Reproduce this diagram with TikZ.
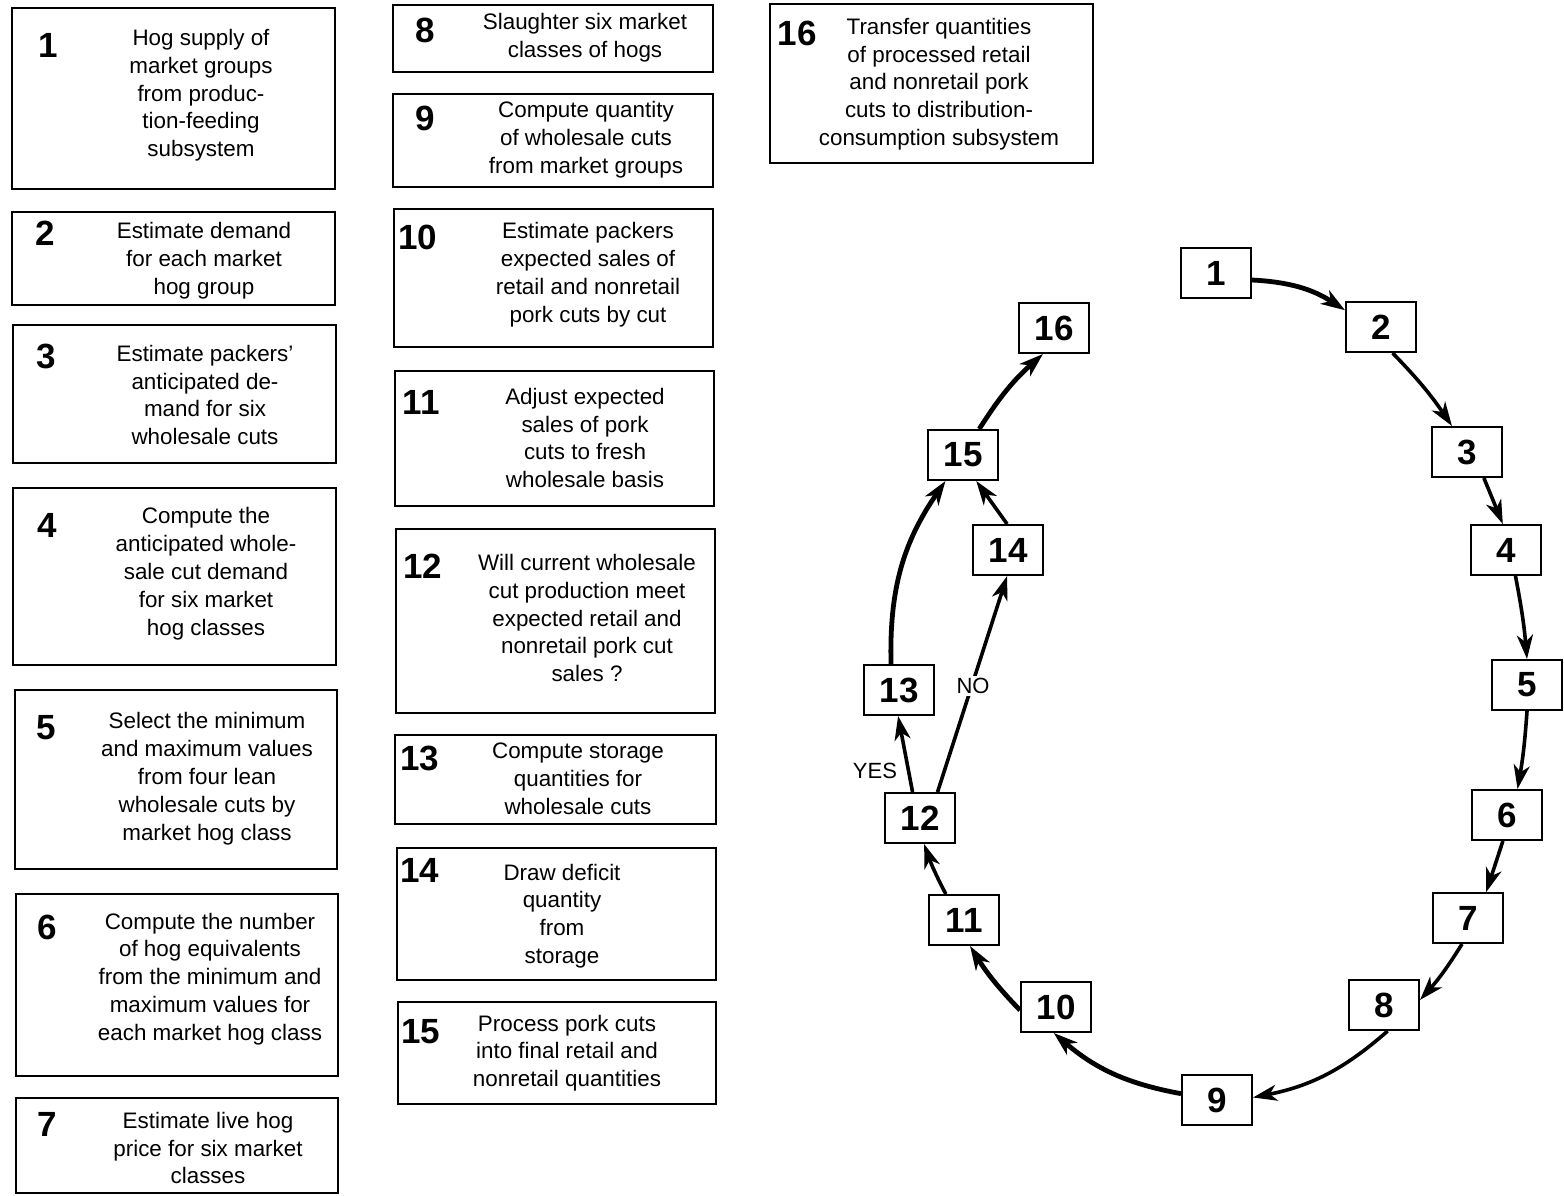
\documentclass[tikz,border=0pt]{standalone}
\usepackage{fontspec}
\setmainfont{Liberation Sans}
\usetikzlibrary{arrows.meta}
\newcommand{\pbox}[5]{\node[box,minimum width={(#4-#2)*0.5pt},minimum height={(#5-#3)*0.5pt}] (#1) at ({(#2+#4)/2},{(#3+#5)/2}) {};}
\begin{document}
\begin{tikzpicture}[x=0.5pt,y=-0.5pt,
  box/.style={draw,line width=1pt,inner sep=0pt,outer sep=0pt},
  num/.style={inner sep=0pt,font=\fontsize{17.5}{20}\selectfont\bfseries},
  txt/.style={inner sep=0pt,align=center,yshift=-1pt,font=\fontsize{11.2}{13.9}\selectfont},
  lbl/.style={inner sep=1pt,font=\fontsize{11}{13}\selectfont},
  sbox/.style={draw,line width=1pt,minimum width=35pt,minimum height=25pt,inner sep=0pt,fill=white,font=\fontsize{17.5}{20}\selectfont\bfseries},
  flow/.style={line width=1.8pt,-{Stealth[length=12pt,width=8pt,inset=3.5pt]}},
  bold flow/.style={line width=2.4pt,-{Stealth[length=12pt,width=8pt,inset=3.5pt]}}]
\path[use as bounding box,fill=white] (0,0) rectangle (1564,1195);
% left column
\pbox{b1}{12}{8}{335}{189}
\node[num] (n1) at (48,45) {1};
\node[txt] (t1) at (201,93.4) {Hog supply of\\market groups\\from produc-\\tion-feeding\\subsystem};
\pbox{b2}{12}{212}{335}{305}
\node[num] (n2) at (45,233) {2};
\node[txt] (t2) at (204,259) {Estimate demand\\for each market\\hog group};
\pbox{b3}{13}{325}{336}{463}
\node[num] (n3) at (46,356) {3};
\node[txt] (t3) at (205,393) {Estimate packers’\\anticipated de-\\mand for six\\wholesale cuts};
\pbox{b4}{13}{488}{336}{665}
\node[num] (n4) at (47,525) {4};
\node[txt] (t4) at (206,571.6) {Compute the\\anticipated whole-\\sale cut demand\\for six market\\hog classes};
\pbox{b5}{15}{690}{337}{869}
\node[num] (n5) at (46,728) {5};
\node[txt] (t5) at (207,776.6) {Select the minimum\\and maximum values\\from four lean\\wholesale cuts by\\market hog class};
\pbox{b6}{16}{894}{338}{1076}
\node[num] (n6) at (47,927) {6};
\node[txt] (t6) at (210,976.8) {Compute the number\\of hog equivalents\\from the minimum and\\maximum values for\\each market hog class};
\pbox{b7}{16}{1098}{338}{1193}
\node[num] (n7) at (47,1124) {7};
\node[txt] (t7) at (208,1146) {Estimate live hog\\price for six market\\classes};
% middle column
\pbox{b8}{393}{5}{713}{72}
\node[num] (n8) at (425,30) {8};
\node[txt] (t8) at (585,36) {Slaughter six market\\classes of hogs};
\pbox{b9}{393}{94}{713}{187}
\node[num] (n9) at (425,118) {9};
\node[txt] (t9) at (586,138) {Compute quantity\\of wholesale cuts\\from market groups};
\pbox{b10}{394}{209}{713}{347}
\node[num] (n10) at (418,237) {10};
\node[txt] (t10) at (588,272.75) {Estimate packers\\expected sales of\\retail and nonretail\\pork cuts by cut};
\pbox{b11}{395}{371}{714}{506}
\node[num] (n11) at (421,402) {11};
\node[txt] (t11) at (585,436) {Adjust expected\\sales of pork\\cuts to fresh\\wholesale basis};
\pbox{b12}{396}{529}{715}{713}
\node[num] (n12) at (423,566) {12};
\node[txt] (t12) at (587,616) {Will current wholesale\\cut production meet\\expected retail and\\nonretail pork cut\\sales ?};
\pbox{b13}{395}{735}{716}{824}
\node[num] (n13) at (420,758) {13};
\node[txt] (t13) at (578,777) {Compute storage\\quantities for\\wholesale cuts};
\pbox{b14}{397}{848}{716}{980}
\node[num] (n14) at (420,870) {14};
\node[txt] (t14) at (562,914) {Draw deficit\\quantity\\from\\storage};
\pbox{b15}{398}{1002}{716}{1104}
\node[num] (n15) at (421,1032) {15};
\node[txt] (t15) at (567,1051) {Process pork cuts\\into final retail and\\nonretail quantities};
% box 16
\pbox{b16}{770}{4}{1093}{163}
\node[num] (n16) at (797,33) {16};
\node[txt] (t16) at (939,82.2) {Transfer quantities\\of processed retail\\and nonretail pork\\cuts to distribution-\\consumption subsystem};
% loop diagram
\node[sbox] (c1) at (1216,273) {1};
\node[sbox] (c2) at (1381,327) {2};
\node[sbox] (c3) at (1467,452) {3};
\node[sbox] (c4) at (1506,550) {4};
\node[sbox] (c5) at (1527,685) {5};
\node[sbox] (c6) at (1507,815) {6};
\node[sbox] (c7) at (1468,918) {7};
\node[sbox] (c8) at (1384,1005) {8};
\node[sbox] (c9) at (1217,1100) {9};
\node[sbox] (c10) at (1056,1007) {10};
\node[sbox] (c11) at (964,920) {11};
\node[sbox] (c12) at (920,818) {12};
\node[sbox] (c13) at (899,690) {13};
\node[sbox] (c14) at (1008,550) {14};
\node[sbox] (c15) at (963,455) {15};
\node[sbox] (c16) at (1054,328) {16};
\draw[bold flow] (c1.-11) to[bend left=15] (c2.155);
\draw[flow] (c2.-66) to[bend left=5] (c3.120);
\draw[flow] (c3.-57) to (c4.97);
\draw[flow] (c4.-70) to[bend left=3] (c5.90);
\draw[flow] (c5.-90) to[bend left=3] (c6.68);
\draw[flow] (c6.-99) to (c7.55);
\draw[flow] (c7.-103) to[bend left=5] (c8.8);
\draw[flow] (c8.-82) to[bend left=15] (c9.4);
\draw[bold flow] (c9.170) to[bend left=15] (c10.-95);
\draw[bold flow] (c10.185) to[bend left=6] (c11.-77);
\draw[flow] (c11.125) to[bend left=4] (c12.-81);
\draw[flow] (c12.106) to (c13.-92);
\draw[flow] (c12.56) to (c14.-92);
\draw[bold flow] (c13.107) to[bend left=18] (c15.-124);
\draw[flow] (c14.92) to (c15.-63);
\draw[bold flow] (c15.58) to[bend left=8] (c16.-113);
\node[lbl,fill=white] (no) at (973,686) {NO};
\node[lbl] (yes) at (875,771) {YES};
\end{tikzpicture}
\end{document}
